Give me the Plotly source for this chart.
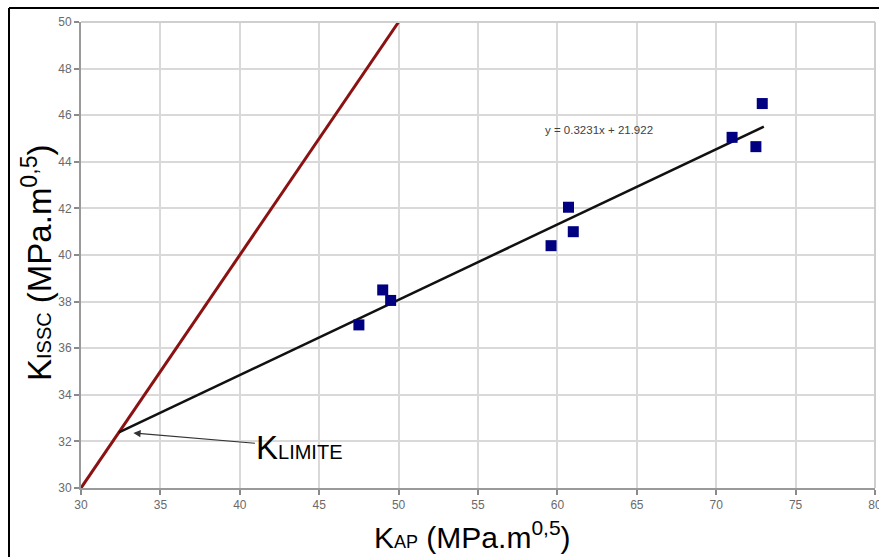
import plotly.graph_objects as go

# Data
k_ap = [47.5, 49.0, 49.5, 59.6, 60.7, 61.0, 71.0, 72.5, 72.9]
k_issc = [37.0, 38.5, 38.05, 40.4, 42.05, 41.0, 45.05, 44.65, 46.5]

slope = 0.3231
intercept = 21.922
k_limite = intercept / (1 - slope)
trend_x = [k_limite, 73.0]
trend_y = [slope * v + intercept for v in trend_x]

limit_x = [30, 50]
limit_y = [30, 50]

x_ticks = list(range(30, 81, 5))
y_ticks = list(range(30, 51, 2))

FONT = "Liberation Sans, Arial, sans-serif"

fig = go.Figure()
fig.add_trace(go.Scatter(x=limit_x, y=limit_y, mode="lines",
                         line=dict(color="#8b1212", width=3), showlegend=False))
fig.add_trace(go.Scatter(x=trend_x, y=trend_y, mode="lines",
                         line=dict(color="#111111", width=2.5), showlegend=False))
fig.add_trace(go.Scatter(x=k_ap, y=k_issc, mode="markers",
                         marker=dict(symbol="square", size=11, color="#000080"),
                         showlegend=False))

axis_common = dict(showgrid=True, gridcolor="#d9d9d9", gridwidth=1.5,
                   showline=True, linecolor="#9a9a9a", linewidth=2,
                   ticks="outside", ticklen=5, tickcolor="#8a8a8a", tickwidth=1.5,
                   tickfont=dict(family=FONT, size=12, color="#6a6a6a"),
                   ticklabeloverflow="allow", automargin=False,
                   zeroline=False, fixedrange=True)

fig.update_xaxes(range=[30, 80], tickvals=x_ticks, **axis_common)
fig.update_yaxes(range=[30, 50], tickvals=y_ticks, **axis_common)

W, H = 879, 557
L, R, T, B = 81, 4, 22, 69
pw, ph = W - L - R, H - T - B

def px(xpix):
    return (xpix - L) / pw

def py(ypix):
    return (H - B - ypix) / ph

shapes = [
    # light top/right frame of plot area
    dict(type="line", xref="paper", yref="paper", x0=0, x1=1, y0=1, y1=1,
         line=dict(color="#cfcfcf", width=2)),
    dict(type="line", xref="paper", yref="paper", x0=1, x1=1, y0=0, y1=1,
         line=dict(color="#cfcfcf", width=2)),
    # outer black border (cropped at right and bottom)
    dict(type="line", xref="paper", yref="paper", x0=px(9), x1=px(885), y0=py(8), y1=py(8),
         line=dict(color="#000000", width=2)),
    dict(type="line", xref="paper", yref="paper", x0=px(9), x1=px(9), y0=py(8), y1=py(565),
         line=dict(color="#000000", width=2)),
]

annotations = [
    dict(xref="paper", yref="paper", x=px(472), y=py(535),
         text="K<span style='font-size:18px'>AP</span> (MPa.m<sup>0,5</sup>)",
         showarrow=False, font=dict(family=FONT, size=30, color="#000000"),
         xanchor="center", yanchor="middle"),
    dict(xref="paper", yref="paper", x=px(37), y=py(263),
         text="K<span style='font-size:20px'>ISSC</span> (MPa.m<sup>0,5</sup>)",
         showarrow=False, textangle=-90, font=dict(family=FONT, size=33, color="#000000"),
         xanchor="center", yanchor="middle"),
    dict(x=62.6, y=45.36, xref="x", yref="y",
         text="y = 0.3231x + 21.922", showarrow=False,
         font=dict(family=FONT, size=11.5, color="#404040")),
    dict(x=33.3, y=32.36, xref="x", yref="y",
         text="K<span style='font-size:20px'>LIMITE</span>",
         showarrow=True, arrowhead=2, arrowsize=1.2, arrowwidth=1.2, arrowcolor="#333333",
         ax=166, ay=14, font=dict(family=FONT, size=33, color="#000000")),
]

fig.update_layout(width=W, height=H,
                  margin=dict(l=L, r=R, t=T, b=B),
                  paper_bgcolor="white", plot_bgcolor="white",
                  shapes=shapes, annotations=annotations,
                  font=dict(family=FONT))

fig.write_html("out.html", config={"displayModeBar": False})
